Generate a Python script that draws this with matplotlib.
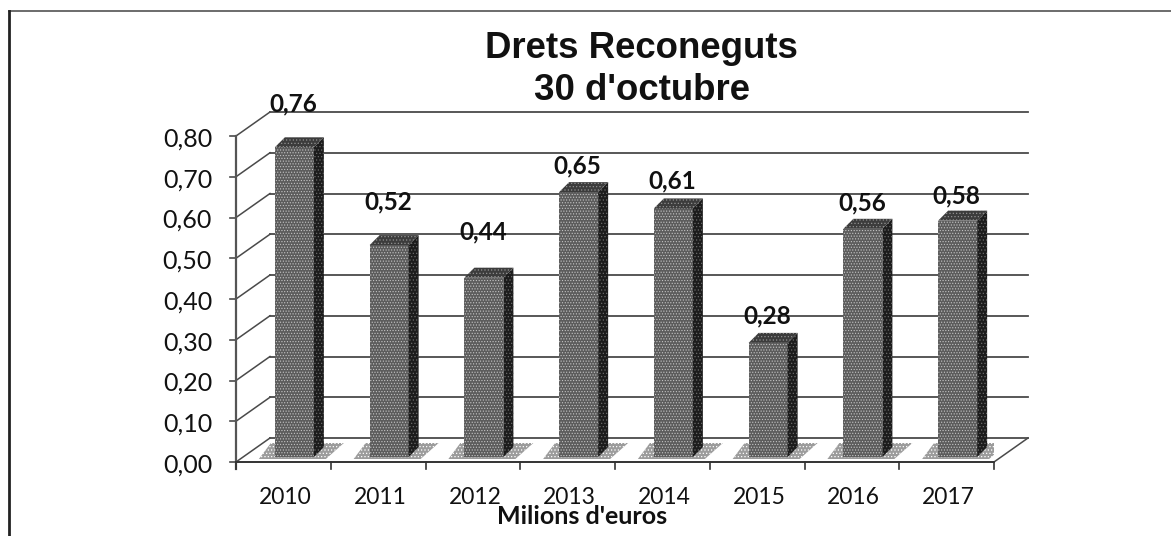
import matplotlib
matplotlib.use("Agg")
import matplotlib.pyplot as plt
from matplotlib.patches import Polygon
from matplotlib.lines import Line2D

plt.rcParams['hatch.linewidth'] = 0.5

years = ['2010', '2011', '2012', '2013', '2014', '2015', '2016', '2017']
values = [0.76, 0.52, 0.44, 0.65, 0.61, 0.28, 0.56, 0.58]
value_labels = ['0,76', '0,52', '0,44', '0,65', '0,61', '0,28', '0,56', '0,58']
y_ticks = [0.0, 0.1, 0.2, 0.3, 0.4, 0.5, 0.6, 0.7, 0.8]
y_tick_labels = ['0,00', '0,10', '0,20', '0,30', '0,40', '0,50', '0,60', '0,70', '0,80']
label_gaps = [33, 33, 36, 16, 18, 17, 16, 15]

W, H = 1171, 536
fig = plt.figure(figsize=(W / 100, H / 100), dpi=100, facecolor='white')
L, R, T, B = 236, 994, 136, 462
ax = fig.add_axes([L / W, 1 - B / H, (R - L) / W, (B - T) / H])
n = len(years)
ax.set_xlim(-0.5, n - 0.5)
ax.set_ylim(0, 0.8)
ax.axis('off')

ux = (R - L) / n
uy = (B - T) / 0.8
wx, wy = 34 / ux, 24 / uy      # wall depth
dx, dy = 10 / ux, 10 / uy      # bar depth
base = 5 / uy
shift = 11 / ux
bw = 39 / ux
gc = '#4a4a4a'

# gridlines and wall edge
for t, tl in zip(y_ticks, y_tick_labels):
    ax.plot([-0.5 + wx, n - 0.5 + wx], [t + wy, t + wy], color=gc, lw=1.3, clip_on=False, zorder=1)
    ax.plot([-0.5, -0.5 + wx], [t, t + wy], color=gc, lw=1.1, clip_on=False, zorder=1)
    ax.plot([-0.5 - 6 / ux, -0.5], [t, t], color=gc, lw=1.2, clip_on=False, zorder=1)
    ax.text(-0.5 - 24 / ux, t - 3 / uy, tl, ha='right', va='center',
            fontsize=18, family='Lato', color='#111111')
ax.plot([-0.5, -0.5], [-7 / uy, 0.8], color='#555555', lw=1.6, clip_on=False, zorder=2)
ax.plot([-0.5, n - 0.5], [0, 0], color='#333333', lw=1.4, clip_on=False, zorder=2)
ax.plot([n - 0.5, n - 0.5 + wx], [0, wy], color=gc, lw=1.1, clip_on=False, zorder=2)

for i in range(n + 1):
    ax.plot([i - 0.5, i - 0.5], [0, -7 / uy], color='#333333', lw=1.2, clip_on=False, zorder=2)

# bars
for i, (v, lab, gap) in enumerate(zip(values, value_labels, label_gaps)):
    x0 = i + shift - bw / 2
    x1 = i + shift + bw / 2
    y0, y1 = base, base + v
    ax.add_patch(Polygon([(x0 - 16 / ux, y0 - 2 / uy), (x1 + 12 / ux, y0 - 2 / uy), (x1 + 30 / ux, y0 + 14 / uy),
                          (x0 - 4 / ux, y0 + 14 / uy)], closed=True, facecolor='#9c9c9c',
                         edgecolor='#ffffff', hatch='.....', lw=0, zorder=3))
    ax.bar(i + shift, v, width=bw, bottom=y0, facecolor='#5c5c5c', edgecolor='#c4c4c4',
           hatch='......', lw=0, zorder=5)
    ax.add_patch(Polygon([(x1, y0), (x1 + dx, y0 + dy), (x1 + dx, y1 + dy), (x1, y1)],
                         closed=True, facecolor='#1c1c1c', edgecolor='#6a6a6a', hatch='.....', lw=0, zorder=5))
    ax.add_patch(Polygon([(x0, y1), (x0 + dx, y1 + dy), (x1 + dx, y1 + dy), (x1, y1)],
                         closed=True, facecolor='#3c3c3c', edgecolor='#909090', hatch='.....', lw=0, zorder=5))
    ax.text(i + 10 / ux, y1 + dy + gap / uy, lab, ha='center', va='center', fontsize=17.5,
            fontweight='bold', family='Lato', color='#111111', zorder=6)
    ax.text(i + 2 / ux, -35 / uy, years[i], ha='center', va='center', fontsize=16.5, family='Lato', color='#111111')

fig.text(641 / W, 1 - 48 / H, "Drets Reconeguts", ha='center', va='center', fontsize=26.4,
         fontweight='bold', family='Liberation Sans', color='#111111')
fig.text(642 / W, 1 - 91 / H, "30 d'octubre", ha='center', va='center', fontsize=26.4,
         fontweight='bold', family='Liberation Sans', color='#111111')
fig.text(582 / W, 1 - 517 / H, "Milions d'euros", ha='center', va='center', fontsize=18,
         fontweight='bold', family='Lato', color='#111111')

# scanned page frame
fig.add_artist(Line2D([9 / W, 1], [1 - 11 / H, 1 - 11 / H], color='#444444', lw=1.1))
fig.add_artist(Line2D([9 / W, 9 / W], [0, 1 - 11 / H], color='#222222', lw=2.0))

fig.savefig('out.png', dpi=100, facecolor='white')
